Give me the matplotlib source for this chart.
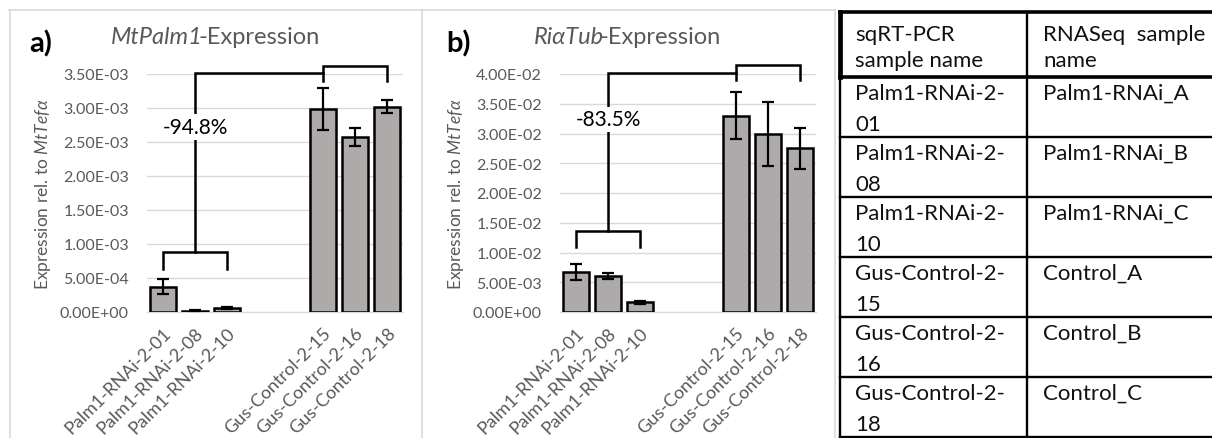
import numpy as np
import matplotlib
matplotlib.use("Agg")
import matplotlib.pyplot as plt
from matplotlib.ticker import FuncFormatter
from matplotlib.offsetbox import TextArea, HPacker, AnnotationBbox

plt.rcParams['font.family'] = ['Lato', 'Open Sans', 'DejaVu Sans']
plt.rcParams['mathtext.fontset'] = 'custom'
plt.rcParams['mathtext.rm'] = 'Lato'
plt.rcParams['mathtext.it'] = 'Lato:italic'

# data
samples = ["Palm1-RNAi-2-01", "Palm1-RNAi-2-08", "Palm1-RNAi-2-10",
           "Gus-Control-2-15", "Gus-Control-2-16", "Gus-Control-2-18"]
rnaseq_names = ["Palm1-RNAi_A", "Palm1-RNAi_B", "Palm1-RNAi_C",
                "Control_A", "Control_B", "Control_C"]
palm1_mean = [3.7e-4, 2.0e-5, 6.0e-5, 2.99e-3, 2.57e-3, 3.02e-3]
palm1_err = [1.1e-4, 1.0e-5, 1.0e-5, 3.1e-4, 1.3e-4, 1.0e-4]
tub_mean = [6.7e-3, 6.1e-3, 1.6e-3, 3.30e-2, 2.99e-2, 2.75e-2]
tub_err = [1.3e-3, 0.5e-3, 0.3e-3, 4.0e-3, 5.4e-3, 3.5e-3]
reductions = ["-94.8%", "-83.5%"]
genes = ["MtPalm1", "RiαTub"]

W, H = 1212, 439
BAR = "#aeaaaa"
GRID = "#d9d9d9"
TXT = "#595959"
x_pos = [0, 1, 2, 5, 6, 7]   # two empty slots between the groups


def px(x):
    return x / W


def py(y):
    return 1 - y / H


def draw_panel(ax, means, errs, ymax, step, levels, pct):
    ax.bar(x_pos, means, width=0.82, color=BAR, edgecolor='black', linewidth=1.8, zorder=3)
    ax.errorbar(x_pos, means, yerr=errs, fmt='none', ecolor='black',
                elinewidth=1.6, capsize=4, capthick=1.6, zorder=4)
    ax.set_xlim(-0.5, 7.5)
    ax.set_ylim(0, ymax)
    ax.set_yticks(np.arange(0, ymax + step / 2, step))
    ax.yaxis.set_major_formatter(FuncFormatter(lambda v, p: f"{v:.2E}"))
    ax.grid(axis='y', color=GRID, lw=1)
    ax.set_axisbelow(True)
    for s in ['top', 'right', 'left']:
        ax.spines[s].set_visible(False)
    ax.spines['bottom'].set_color(GRID)
    ax.set_xticks(x_pos)
    ax.set_xticklabels(samples, rotation=45, ha='right', rotation_mode='anchor')
    ax.tick_params(length=0, colors=TXT)
    ax.tick_params(axis='y', pad=13, labelsize=11.5)
    ax.tick_params(axis='x', pad=9, labelsize=13)
    ax.set_ylabel("Expression rel. to $\\mathit{MtTef\\alpha}$", color=TXT, fontsize=12.5)
    ax.yaxis.set_label_coords(-0.406, 0.5)
    ax.yaxis.label.set_va('center')

    top, conn, leg, low, lowleg, ytxt = levels
    kw = dict(color='black', lw=1.8, clip_on=False, zorder=5, solid_joinstyle='miter')
    ax.plot([0, 0, 2, 2], [lowleg, low, low, lowleg], **kw)
    ax.plot([1, 1, 5], [low, conn, conn], **kw)
    ax.plot([5, 5, 7, 7], [leg, top, top, leg], **kw)
    ax.text(1, ytxt, pct, ha='center', va='center', fontsize=15, color='black', zorder=6,
            bbox=dict(fc='white', ec='none', pad=2))


def mixed_title(fig, x, y, italic, plain):
    tp = dict(color=TXT, fontsize=17)
    box = HPacker(children=[TextArea(italic, textprops=dict(style='italic', **tp)),
                            TextArea(plain, textprops=tp)],
                  sep=-3, pad=0, align='baseline')
    ab = AnnotationBbox(box, (px(x), py(y)), xycoords='figure fraction',
                        frameon=False, box_alignment=(0.5, 0.5), pad=0)
    fig.add_artist(ab)


fig = plt.figure(figsize=(W / 100, H / 100), dpi=100)

# frame lines and table drawn in pixel space
ov = fig.add_axes([0, 0, 1, 1])
ov.set_xlim(0, W)
ov.set_ylim(H, 0)
ov.axis('off')
ov.plot([9, 835], [10.5, 10.5], color=GRID, lw=1.2)
for xv in [9.5, 422, 835]:
    ov.plot([xv, xv], [10.5, H], color=GRID, lw=1.2)

ax_a = fig.add_axes([px(147), py(313), 256 / W, 238 / H])
ax_b = fig.add_axes([px(560), py(313), 256 / W, 238 / H])
ax_a.patch.set_alpha(0)
ax_b.patch.set_alpha(0)

draw_panel(ax_a, palm1_mean, palm1_err, 3.5e-3, 5e-4,
           [3.618e-3, 3.515e-3, 3.397e-3, 8.82e-4, 6.32e-4, 2.72e-3], reductions[0])
draw_panel(ax_b, tub_mean, tub_err, 4.0e-2, 5e-3,
           [4.156e-2, 4.017e-2, 3.90e-2, 1.36e-2, 1.09e-2, 3.24e-2], reductions[1])

mixed_title(fig, 215, 38, genes[0], "-Expression")
mixed_title(fig, 627, 38, genes[1], "-Expression")
fig.text(px(41), py(44), "a)", ha='center', va='center', fontsize=21, fontweight='bold')
fig.text(px(458), py(44), "b)", ha='center', va='center', fontsize=21, fontweight='bold')

# table
tx0, tx1, tx2 = 840, 1027, 1214
rows = [13, 78, 138, 198, 258, 318, 378, 438]
thick, thin = 2.6, 1.7
ov.plot([tx0, tx2], [rows[0], rows[0]], color='black', lw=thick)
ov.plot([tx0, tx2], [rows[1], rows[1]], color='black', lw=thick)
ov.plot([tx0, tx0], [rows[0], rows[1]], color='black', lw=3.4)
ov.plot([tx0, tx0], [rows[1], rows[-1]], color='black', lw=thin)
ov.plot([tx1, tx1], [rows[0], rows[-1]], color='black', lw=thin)
for yv in rows[2:]:
    ov.plot([tx0, tx2], [yv, yv], color='black', lw=thin)

tfs = 16
tcol = '#111111'
ov.text(855, 41, "sqRT-PCR", fontsize=tfs, color=tcol, va='baseline')
ov.text(855, 67, "sample name", fontsize=tfs, color=tcol, va='baseline')
ov.text(1043, 41, "RNASeq  sample", fontsize=tfs, color=tcol, va='baseline')
ov.text(1043, 67, "name", fontsize=tfs, color=tcol, va='baseline')
for i, (s, r) in enumerate(zip(samples, rnaseq_names)):
    cut = s.rfind('-') + 1
    y0 = rows[i + 1]
    ov.text(855, y0 + 22, s[:cut], fontsize=tfs, color=tcol, va='baseline')
    ov.text(855, y0 + 53, s[cut:], fontsize=tfs, color=tcol, va='baseline')
    ov.text(1043, y0 + 22, r, fontsize=tfs, color=tcol, va='baseline')

fig.savefig("out.png", dpi=100)
